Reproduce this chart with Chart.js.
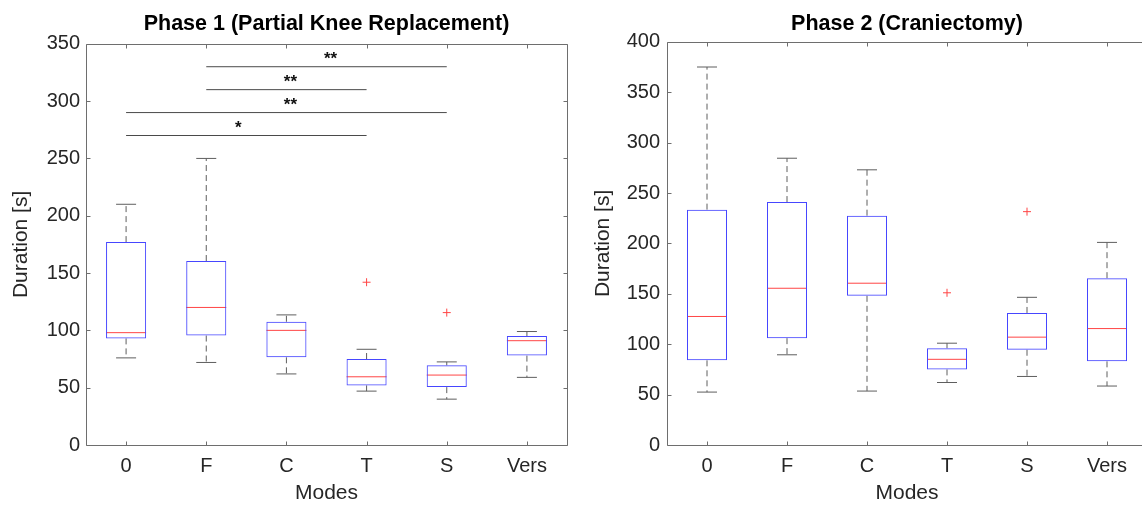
<!DOCTYPE html>
<html>
<head>
<meta charset="utf-8">
<title>Duration per mode</title>
<script src="https://cdn.jsdelivr.net/npm/chart.js@4.4.1/dist/chart.umd.min.js"></script>
<style>
  html, body { margin: 0; padding: 0; background: #fff; overflow: hidden; }
  #wrap { position: relative; width: 1142px; height: 505px; overflow: hidden; }
  #wrap canvas { position: absolute; top: 0; }
</style>
</head>
<body>
<div id="wrap">
  <canvas id="phase1" width="588" height="507" style="left:0"></canvas>
  <canvas id="phase2" width="588" height="507" style="left:580px"></canvas>
</div>
<script>
// ─── Data ───
var modes = ['0', 'F', 'C', 'T', 'S', 'Vers'];

// Phase 1 (Partial Knee Replacement)
var p1Lower    = [76, 72, 62, 47, 40, 59];
var p1Q1       = [93, 95.5, 76.5, 52, 50.5, 78];
var p1Median   = [98, 120, 100, 59.5, 61, 91];
var p1Q3       = [177, 160.5, 107.5, 75, 69.5, 95];
var p1Upper    = [210, 250, 113.5, 83.5, 72.5, 99];
var p1Outliers = [null, null, null, 142, 115.5, null];
var p1Ticks    = [0, 50, 100, 150, 200, 250, 300, 350];

// significance brackets (phase 1 only)
var sigFrom  = ['F', 'F', '0', '0'];
var sigTo    = ['S', 'T', 'S', 'T'];
var sigY     = [330, 310, 290, 270];
var sigLabel = ['**', '**', '**', '*'];
var sigTextX = [2.55, 2.05, 2.05, 1.4];

// Phase 2 (Craniectomy)
var p2Lower    = [52.5, 89.5, 53.5, 62, 68, 58.5];
var p2Q1       = [84, 106, 148, 75, 94.5, 83];
var p2Median   = [127.5, 155.5, 160.5, 85, 107, 115.5];
var p2Q3       = [233.5, 241, 227.5, 96, 131, 165.5];
var p2Upper    = [375, 284.5, 273, 101, 146.5, 201];
var p2Outliers = [null, null, null, 151, 231.5, null];
var p2Ticks    = [0, 50, 100, 150, 200, 250, 300, 350, 400];

// ─── Styles ───
var colors = {
	box: '#4646ff',
	median: '#ff4545',
	whisker: '#5e5e5e',
	axis: '#6e6e6e',
	text: '#262626',
	sig: '#4a4a4a'
};

Chart.defaults.font.family = "'Liberation Sans', Arial, sans-serif";
Chart.defaults.color = colors.text;

function whiskerPoints(q1, q3, lower, upper) {
	var pts = [];
	modes.forEach(function (m, i) {
		pts.push({ x: m, y: q3[i] }, { x: m, y: upper[i] }, { x: m, y: null });
		pts.push({ x: m, y: q1[i] }, { x: m, y: lower[i] }, { x: m, y: null });
	});
	return pts;
}

// MATLAB-ish frame: box with inward ticks, plus optional star labels
function framePlugin(stars, drawRight) {
	return {
		id: 'matlabFrame',
		afterDraw: function (chart) {
			var ctx = chart.ctx;
			var a = chart.chartArea;
			var xs = chart.scales.x, ys = chart.scales.y;
			var l = Math.round(a.left) + 0.5, r = Math.round(a.right) + 0.5;
			var t = Math.round(a.top) + 0.5, b = Math.round(a.bottom) + 0.5;
			var tl = 4;
			ctx.save();
			ctx.strokeStyle = colors.axis;
			ctx.lineWidth = 1;
			ctx.beginPath();
			// the second panel runs off the figure edge, so its right side is not shown
			var right = drawRight ? r : chart.width;
			ctx.moveTo(right, t); ctx.lineTo(l, t); ctx.lineTo(l, b); ctx.lineTo(right, b);
			if (drawRight) ctx.lineTo(r, t);
			ys.ticks.forEach(function (tk, i) {
				var py = Math.round(ys.getPixelForTick(i)) + 0.5;
				ctx.moveTo(l, py); ctx.lineTo(l + tl, py);
				if (drawRight) { ctx.moveTo(r, py); ctx.lineTo(r - tl, py); }
			});
			xs.ticks.forEach(function (tk, i) {
				var px = Math.round(xs.getPixelForTick(i)) + 0.5;
				ctx.moveTo(px, b); ctx.lineTo(px, b - tl);
				ctx.moveTo(px, t); ctx.lineTo(px, t + tl);
			});
			ctx.stroke();

			if (stars) {
				ctx.fillStyle = '#111';
				ctx.font = "bold 17px 'Liberation Sans', Arial, sans-serif";
				ctx.textAlign = 'center';
				ctx.textBaseline = 'alphabetic';
				stars.labels.forEach(function (txt, i) {
					ctx.fillText(txt, xs.getPixelForValue(stars.x[i]), ys.getPixelForValue(stars.y[i]) - 3);
				});
			}
			ctx.restore();
		}
	};
}

function makeChart(id, opts) {
	var datasets = [
		{
			type: 'bar',
			data: modes.map(function (m, i) { return [opts.q1[i], opts.q3[i]]; }),
			backgroundColor: 'transparent',
			borderColor: colors.box,
			borderWidth: 1,
			borderSkipped: false,
			barPercentage: 0.5,
			categoryPercentage: 1
		},
		{
			type: 'line',
			data: whiskerPoints(opts.q1, opts.q3, opts.lower, opts.upper),
			borderColor: colors.whisker,
			borderWidth: 1,
			borderDash: [6, 4],
			pointRadius: 0,
			spanGaps: false
		},
		{
			type: 'line',
			data: opts.upper,
			showLine: false,
			pointStyle: 'line',
			pointRadius: 10,
			pointBorderColor: colors.whisker,
			pointBorderWidth: 1
		},
		{
			type: 'line',
			data: opts.lower,
			showLine: false,
			pointStyle: 'line',
			pointRadius: 10,
			pointBorderColor: colors.whisker,
			pointBorderWidth: 1
		},
		{
			type: 'line',
			data: opts.median,
			showLine: false,
			pointStyle: 'line',
			pointRadius: 20,
			pointBorderColor: colors.median,
			pointBorderWidth: 1
		},
		{
			type: 'line',
			data: opts.outliers,
			showLine: false,
			pointStyle: 'cross',
			pointRadius: 4,
			pointBorderColor: colors.median,
			pointBorderWidth: 1
		}
	];

	(opts.sig || []).forEach(function (s) {
		datasets.push({
			type: 'line',
			data: [{ x: s.from, y: s.y }, { x: s.to, y: s.y }],
			borderColor: colors.sig,
			borderWidth: 1,
			pointRadius: 0
		});
	});

	return new Chart(document.getElementById(id), {
		type: 'bar',
		data: { labels: modes, datasets: datasets },
		options: {
			responsive: false,
			animation: false,
			events: [],
			layout: { padding: 0 },
			plugins: {
				legend: { display: false },
				tooltip: { enabled: false },
				title: {
					display: true,
					fullSize: false,
					text: opts.title,
					color: '#000',
					font: { size: 21.5, weight: 'bold' },
					padding: { top: 11, bottom: opts.titleBottom }
				}
			},
			scales: {
				x: {
					type: 'category',
					offset: true,
					grid: { display: false, drawTicks: false },
					border: { display: false },
					ticks: { font: { size: 20 }, padding: 9, color: colors.text },
					title: {
						display: true,
						text: 'Modes',
						font: { size: 21 },
						color: colors.text,
						padding: { top: 0, bottom: 1 }
					},
					afterFit: function (scale) { scale.height = 62; }
				},
				y: {
					min: 0,
					max: opts.ticks[opts.ticks.length - 1],
					afterBuildTicks: function (scale) {
						scale.ticks = opts.ticks.map(function (v) { return { value: v }; });
					},
					grid: { display: false, drawTicks: false },
					border: { display: false },
					ticks: { font: { size: 20 }, padding: opts.tickPad, color: colors.text },
					title: {
						display: true,
						text: 'Duration [s]',
						font: { size: 21 },
						color: colors.text,
						padding: { top: opts.yTitlePad, bottom: 0 }
					},
					afterFit: function (scale) { scale.width = opts.yWidth; }
				}
			}
		},
		plugins: [framePlugin(opts.stars, opts.drawRight)]
	});
}

makeChart('phase1', {
	title: 'Phase 1 (Partial Knee Replacement)',
	lower: p1Lower, q1: p1Q1, median: p1Median, q3: p1Q3, upper: p1Upper,
	outliers: p1Outliers, ticks: p1Ticks,
	sig: sigFrom.map(function (f, i) { return { from: f, to: sigTo[i], y: sigY[i] }; }),
	stars: { labels: sigLabel, x: sigTextX, y: sigY },
	drawRight: true,
	yWidth: 86, tickPad: 6, yTitlePad: 9, titleBottom: 7
});

makeChart('phase2', {
	title: 'Phase 2 (Craniectomy)',
	lower: p2Lower, q1: p2Q1, median: p2Median, q3: p2Q3, upper: p2Upper,
	outliers: p2Outliers, ticks: p2Ticks,
	drawRight: false,
	yWidth: 87, tickPad: 7, yTitlePad: 11, titleBottom: 5
});
</script>
</body>
</html>
